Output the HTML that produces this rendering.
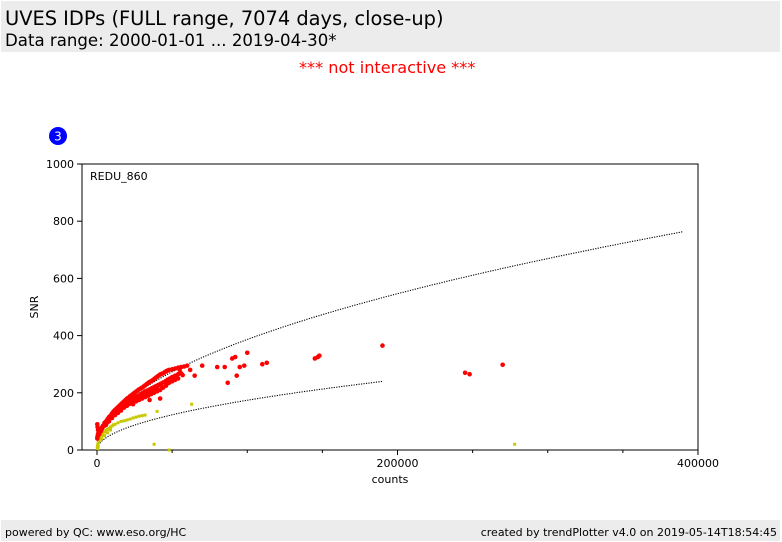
<!DOCTYPE html>
<html><head><meta charset="utf-8"><style>
body{margin:0;width:782px;height:542px;background:#fff;position:relative;overflow:hidden;font-family:"DejaVu Sans","Liberation Sans",sans-serif}
.hdr{position:absolute;left:1px;top:1px;width:779px;height:51px;background:#ececec}
.t1{position:absolute;left:4px;top:6px;font-size:19.4px;color:#000}
.t2{position:absolute;left:4px;top:30px;font-size:16.6px;color:#000}
.ni{position:absolute;left:299px;top:58px;font-size:16.1px;color:#f00}
.ftr{position:absolute;left:1px;top:520px;width:779px;height:21px;background:#ececec;font-size:11px}
.ftr span{position:absolute;top:6px}
</style></head><body>
<div class="hdr">
<div class="t1">UVES IDPs (FULL range, 7074 days, close-up)</div>
<div class="t2">Data range: 2000-01-01 ... 2019-04-30*</div></div>
<div class="ni">*** not interactive ***</div>
<svg id="chart" width="782" height="542" style="position:absolute;left:0;top:0"></svg>
<div class="ftr">
<span style="left:4px">powered by QC: www.eso.org/HC</span>
<span style="right:3px">created by trendPlotter v4.0 on 2019-05-14T18:54:45</span></div>
<script>
const xTicks=[0,200000,400000];
const yTicks=[0,200,400,600,800,1000];
const redCounts=[200,300,500,700,1000,1200,1500,2000,2500,3000,3500,4000,5000,6000,7000,8000,9000,10000,11000,12000,13000,14000,15000,16000,17000,18000,19000,20000,21000,22000,23000,24000,25000,26000,27000,28000,29000,30000,31000,32000,33000,34000,35000,36000,37000,38000,39000,40000,41000,42000,43000,44000,45000,46000,47000,48000,50000,52000,54000,56000,58000,60000,26000,28000,30000,32000,34000,36000,38000,40000,42000,44000,46000,48000,50000,52000,54000,200,400,700,1000,35000,42000,55000,62000,65000,70000,80000,85000,87000,90000,92000,93000,95000,98000,100000,110000,113000,145000,147000,148000,190000,245000,248000,270000,24000,20000,
1500,2500,3500,5000,6500,8000,9500,11000,12500,14000,15500,17000,18500,20000,21500,23000,24500,26000,27500,29000,30500,32000,33500,35000,36500,38000,39500,41000,42500,44000,45500,47000,48500,50000,52000,54000,56000,
6000,8000,10000,12000,14000,16000,18000,20000,22000,24000,26000,28000,30000,32000,34000,36000,38000,40000,43000,46000,49000,53000,57000];
const redSnr=[40,45,50,55,55,60,62,68,72,75,80,85,95,100,108,115,120,128,135,140,145,150,155,160,165,170,175,180,183,188,192,196,200,204,208,212,215,218,222,226,230,234,238,240,244,248,252,256,260,264,266,268,272,275,278,280,282,285,288,290,292,295,170,175,180,185,190,195,200,205,210,218,225,235,240,245,250,90,80,70,60,175,180,280,280,260,295,290,290,235,320,325,260,290,295,340,300,305,320,325,330,365,270,265,298,160,155,
55,65,75,85,95,105,115,125,132,140,146,152,158,165,170,176,182,186,190,195,200,205,208,212,216,220,224,228,232,236,240,246,250,255,260,265,268,
88,100,112,122,130,138,148,155,162,170,176,182,190,196,202,206,210,214,222,230,240,252,262];
const yelCounts=[200,400,600,800,1000,1300,1600,2000,2500,3000,3500,4000,5000,6000,7000,8000,9000,10000,11000,12000,14000,16000,18000,20000,22000,24000,26000,28000,30000,32000,38000,40000,63000,278000,48000,500,800,3000,5000,7000,9000];
const yelSnr=[10,15,20,25,28,32,35,40,45,50,55,58,63,68,72,76,80,84,88,90,95,100,102,105,108,112,115,118,120,122,20,135,160,20,0,5,12,40,50,60,70];
const upperK=1.222, upperMax=390000, lowerK=0.55, lowerMax=190000;
const NS="http://www.w3.org/2000/svg";
const svg=document.getElementById('chart');
const X0=82,X1=698,Y0=450,Y1=164;
const xs=v=>97+v*(601/400000);
const ys=v=>Y0-v*(286/1000);
function mk(t,a,p){const e=document.createElementNS(NS,t);for(const k in a)e.setAttribute(k,a[k]);(p||svg).appendChild(e);return e;}
const frame=mk('rect',{x:X0,y:Y1,width:X1-X0,height:Y0-Y1,fill:'none',stroke:'#000','stroke-width':1});


xTicks.forEach(v=>{mk('line',{x1:xs(v),x2:xs(v),y1:Y0,y2:Y0+5,stroke:'#000'});
const t=mk('text',{x:xs(v),y:Y0+17,'font-size':11,'text-anchor':'middle'});t.textContent=v;

});
for(let v=50000;v<400000;v+=50000){if(v%200000)mk('line',{x1:xs(v),x2:xs(v),y1:Y0,y2:Y0+3,stroke:'#000'});}
yTicks.forEach(v=>{mk('line',{x1:X0-5,x2:X0,y1:ys(v),y2:ys(v),stroke:'#000'});
const t=mk('text',{x:X0-8,y:ys(v)+4,'font-size':11,'text-anchor':'end'});t.textContent=v;

});
let t=mk('text',{x:390,y:483,'font-size':11,'text-anchor':'middle'});t.textContent='counts';


t=mk('text',{x:38,y:307,'font-size':11,'text-anchor':'middle',transform:'rotate(-90 38 307)'});t.textContent='SNR';


t=mk('text',{x:90,y:180,'font-size':11});t.textContent='REDU_860';


const c=mk('circle',{cx:58,cy:136,r:9,fill:'#00f'});


t=mk('text',{x:58,y:140.5,'font-size':12,fill:'#fff','text-anchor':'middle'});t.textContent='3';
function curve(k,max,name){let d='';for(let i=0;i<=200;i++){const v=max*i/200;d+=(i?'L':'M')+xs(v).toFixed(1)+','+ys(k*Math.sqrt(v)).toFixed(1);}
const p=mk('path',{d:d,fill:'none',stroke:'#000','stroke-width':1.1,'stroke-dasharray':'1.2,1.3'});

}
curve(upperK,upperMax,'upper-reference-curve');
curve(lowerK,lowerMax,'lower-reference-curve');
yelCounts.forEach((v,i)=>{const e=mk('rect',{x:xs(v)-1.5,y:ys(yelSnr[i])-1.5,width:3,height:3,fill:'#c8c800'});

});
redCounts.forEach((v,i)=>{const e=mk('circle',{cx:xs(v),cy:ys(redSnr[i]),r:2.3,fill:'#f00'});

});
</script>
</body></html>
